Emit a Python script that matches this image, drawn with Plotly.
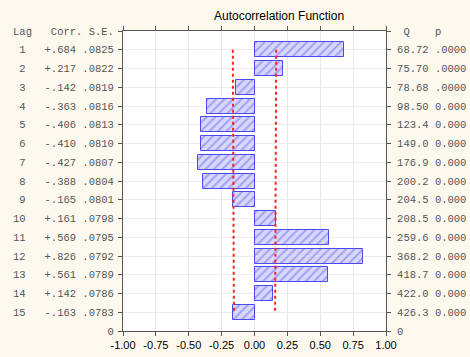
import plotly.graph_objects as go

lags = list(range(1, 16))
corr = [0.684, 0.217, -0.142, -0.363, -0.406, -0.410, -0.427, -0.388, -0.165, 0.161, 0.569, 0.826, 0.561, 0.142, -0.163]
corr_txt = ["+.684", "+.217", "-.142", "-.363", "-.406", "-.410", "-.427", "-.388", "-.165", "+.161", "+.569", "+.826", "+.561", "+.142", "-.163"]
se = [0.0825, 0.0822, 0.0819, 0.0816, 0.0813, 0.0810, 0.0807, 0.0804, 0.0801, 0.0798, 0.0795, 0.0792, 0.0789, 0.0786, 0.0783]
se_txt = [".0825", ".0822", ".0819", ".0816", ".0813", ".0810", ".0807", ".0804", ".0801", ".0798", ".0795", ".0792", ".0789", ".0786", ".0783"]
q_txt = ["68.72", "75.70", "78.68", "98.50", "123.4", "149.0", "176.9", "200.2", "204.5", "208.5", "259.6", "368.2", "418.7", "422.0", "426.3"]
p_txt = [".0000", ".0000", ".0000", "0.000", "0.000", "0.000", "0.000", "0.000", "0.000", "0.000", "0.000", "0.000", "0.000", "0.000", "0.000"]
x_ticks = [-1.0, -0.75, -0.5, -0.25, 0.0, 0.25, 0.5, 0.75, 1.0]

NB = "\u00a0"
n = len(lags)
ypos = [n + 1 - l for l in lags]
upper = [2 * s for s in se]
lower = [-2 * s for s in se]

left_vals = [0] + ypos + [n + 1]
left_text = ["0"] + [f"{l:>2d}   {c} {s}".replace(" ", NB) for l, c, s in zip(lags, corr_txt, se_txt)] + ["Lag   Corr. S.E.".replace(" ", NB)]
right_text = ["0"] + [f"{q} {p}".replace(" ", NB) for q, p in zip(q_txt, p_txt)] + [" Q    p".replace(" ", NB)]

fig = go.Figure()
fig.add_trace(go.Bar(
    x=corr, y=ypos, orientation="h", width=0.8,
    marker=dict(color="#c9c9fb", line=dict(color="#4a4af0", width=1),
                pattern=dict(shape="/", fgcolor="#6b6bf5", bgcolor="#d8d8fc", size=6, solidity=0.35)),
    showlegend=False, hoverinfo="skip"))
fig.add_trace(go.Scatter(x=lower, y=ypos, mode="lines", line=dict(color="#ff2020", width=2, dash="3px,3px"),
                         showlegend=False, hoverinfo="skip"))
fig.add_trace(go.Scatter(x=upper, y=ypos, mode="lines", line=dict(color="#ff2020", width=2, dash="3px,3px"),
                         showlegend=False, hoverinfo="skip"))
fig.add_trace(go.Scatter(x=[0], y=[0], yaxis="y2", mode="markers", marker=dict(opacity=0),
                         showlegend=False, hoverinfo="skip"))

mono = dict(family="Liberation Mono, Courier New, monospace", size=10.5, color="#555555")
fig.update_layout(
    width=470, height=357,
    margin=dict(l=123, r=84, t=31, b=26, autoexpand=False),
    paper_bgcolor="#fdf9ef", plot_bgcolor="white",
    bargap=0,
    xaxis=dict(range=[-1, 1], tickvals=x_ticks, ticktext=[f"{v:.2f}" for v in x_ticks],
               ticks="outside", ticklen=4, tickcolor="#555555", automargin=False,
               showline=True, linecolor="#555555", linewidth=1, mirror="allticks",
               showgrid=True, gridcolor="#e8e8e8", zeroline=False,
               tickfont=dict(family="Liberation Sans, Arial, sans-serif", size=11, color="black")),
    yaxis=dict(range=[0, n + 1], tickvals=left_vals, ticktext=left_text, automargin=False,
               ticks="outside", ticklen=4, tickcolor="#555555", ticklabelstandoff=2,
               showline=True, linecolor="#555555", linewidth=1, mirror=True,
               showgrid=True, gridcolor="#ececec", zeroline=False, tickfont=mono),
    yaxis2=dict(range=[0, n + 1], tickvals=left_vals, ticktext=right_text, overlaying="y", side="right",
                ticks="outside", ticklen=4, tickcolor="#555555", showgrid=False, zeroline=False,
                ticklabelstandoff=4,
                automargin=False, showline=False, tickfont=mono),
    annotations=[dict(text="Autocorrelation Function", xref="paper", yref="paper", x=0.593, y=1,
                      yshift=6, xanchor="center", yanchor="bottom", showarrow=False,
                      font=dict(family="Liberation Sans, Arial, sans-serif", size=12, color="black"))],
)
fig.write_html("out.html", config={"displayModeBar": False},
               post_script="document.body.style.margin='0px';")
